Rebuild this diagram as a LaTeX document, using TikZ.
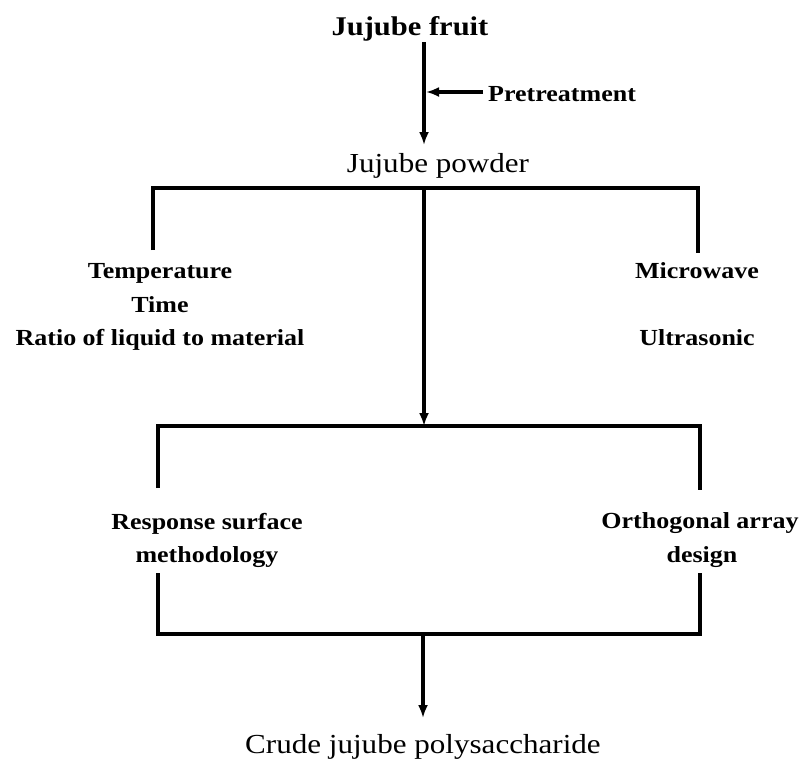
\documentclass[tikz,border=0pt]{standalone}
\usepackage{fontspec}
\setmainfont[FakeStretch=1.13]{Liberation Serif}
\usetikzlibrary{arrows.meta}
\begin{document}
\begin{tikzpicture}[x=1pt,y=-1pt,
 line/.style={line width=3.2pt},
 arr/.style={line width=3.2pt,-{Latex[length=13pt,width=10pt]}},
 big/.style={inner sep=0pt,anchor=base,font=\fontsize{27}{32}\selectfont\bfseries},
 lab/.style={inner sep=0pt,anchor=base,font=\fontsize{23}{28}\selectfont\bfseries},
 plain/.style={inner sep=0pt,anchor=base,font=\fontsize{27.5}{33}\selectfont},
]
\useasboundingbox (0,0) rectangle (802,761);
% texts
\node[big] (fruit) at (410,35) {Jujube fruit};
\node[lab,anchor=base west] (pre) at (488,101) {Pretreatment};
\node[plain] (powder) at (438,172) {Jujube powder};
\node[lab] (temp) at (160,278) {Temperature};
\node[lab] (time) at (160,312) {Time};
\node[lab] (ratio) at (160,345) {Ratio of liquid to material};
\node[lab] (micro) at (697,278) {Microwave};
\node[lab] (ultra) at (697,345) {Ultrasonic};
\node[lab] (rsm1) at (207,529) {Response surface};
\node[lab] (rsm2) at (207,562) {methodology};
\node[lab] (oad1) at (700,528) {Orthogonal array};
\node[lab] (oad2) at (702,562) {design};
\node[plain] (crude) at (423,753) {Crude jujube polysaccharide};
% junction coordinates
\coordinate (a1s) at (424,42);
\coordinate (a1e) at (424,145);
\coordinate (p1s) at (483,92);
\coordinate (p1e) at (426,92);
\coordinate (tLd) at (153,250);
\coordinate (tL) at (153,188);
\coordinate (tC) at (424,188);
\coordinate (tR) at (698,188);
\coordinate (tRd) at (698,253);
\coordinate (mLd) at (158,488);
\coordinate (mL) at (158,426);
\coordinate (mC) at (424,426);
\coordinate (mR) at (700,426);
\coordinate (mRd) at (700,490);
\coordinate (bLu) at (158,573);
\coordinate (bL) at (158,634);
\coordinate (bC) at (423,634);
\coordinate (bR) at (700,634);
\coordinate (bRu) at (700,573);
\coordinate (bE) at (423,718);
% connectors
\draw[arr] (a1s) -- (a1e);
\draw[arr] (p1s) -- (p1e);
\draw[line] (tLd) -- (tL) -- (tR) -- (tRd);
\draw[arr] (tC) -- (mC);
\draw[line] (mLd) -- (mL) -- (mR) -- (mRd);
\draw[line] (bLu) -- (bL) -- (bR) -- (bRu);
\draw[arr] (bC) -- (bE);
\end{tikzpicture}
\end{document}
